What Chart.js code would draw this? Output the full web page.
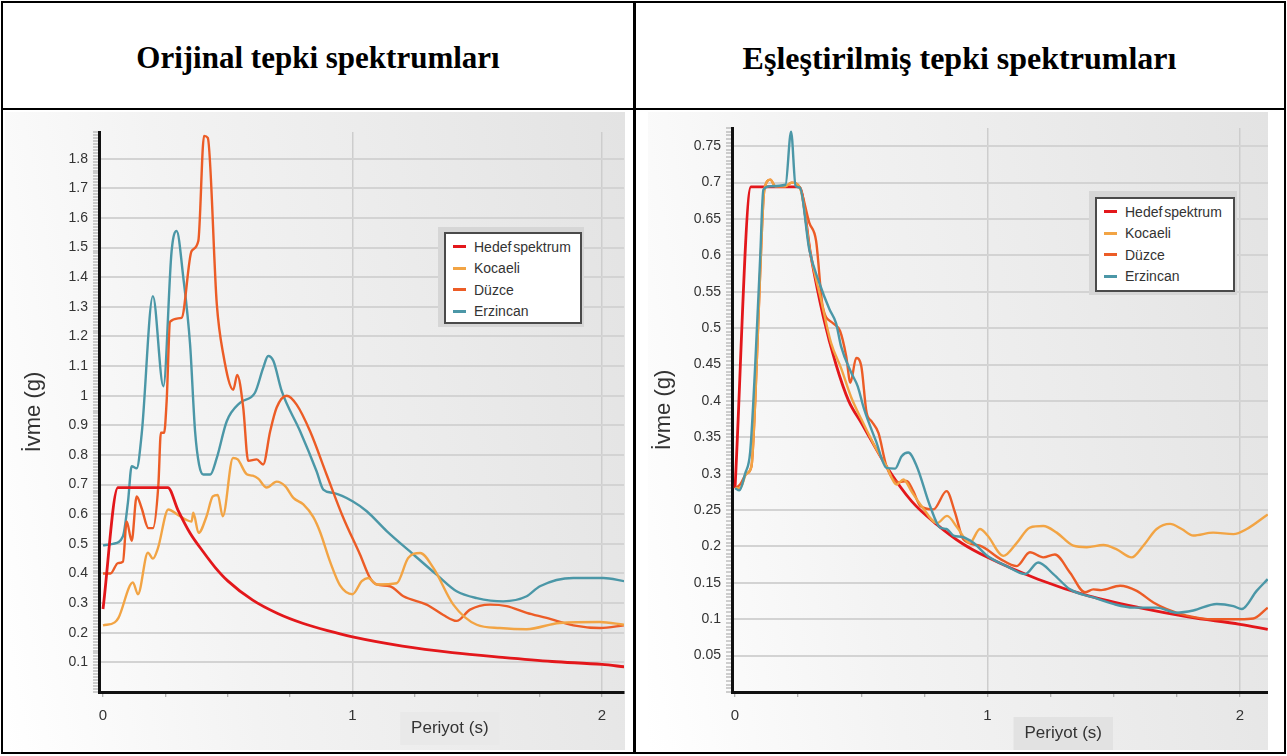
<!DOCTYPE html>
<html>
<head>
<meta charset="utf-8">
<title>Tepki spektrumları</title>
<script src="https://cdn.jsdelivr.net/npm/chart.js@4.4.1/dist/chart.umd.min.js"></script>
<style>
  html, body { margin: 0; padding: 0; background: #fff; }
  body { width: 1287px; height: 756px; position: relative; overflow: hidden;
         font-family: "Liberation Sans", Arial, sans-serif; }
  .frame { position: absolute; left: 1px; top: 1px; width: 1281px; height: 749px; border: 2px solid #000; }
  .vline { position: absolute; left: 633px; top: 1px; width: 3px; height: 753px; background: #000; }
  .hline { position: absolute; left: 1px; top: 108px; width: 1285px; height: 2px; background: #000; }
  .head { position: absolute; top: 3px; height: 105px; padding-top: 5px; box-sizing: border-box;
          display: flex; align-items: center; justify-content: center;
          font-family: "Liberation Serif", "Times New Roman", serif; font-weight: bold; font-size: 31px; color: #000; }
  .panel { position: absolute; top: 112px; width: 620px; height: 638px;
           background: linear-gradient(80deg, #ffffff 0%, #f3f3f3 35%, #e3e3e3 100%); }
  .panel canvas { display: block; }
  .lg-frame { position: absolute; background: #d6d6d6; }
  .legend { position: absolute; background: #fff; border: 2px solid #4a4a4a; box-sizing: border-box;
            padding-top: 2px; font-size: 14px; color: #333; word-spacing: -2px; }
  .lg-row { height: 21.5px; display: flex; align-items: center; padding-left: 7px; white-space: nowrap; }
  .lg-swatch { width: 13px; height: 3px; margin-right: 8px; flex: none; }
</style>
</head>
<body>
<div class="frame"></div>
<div class="hline"></div>
<div class="vline"></div>
<div class="head" style="left:3px; width:630px;">Orijinal tepki spektrumları</div>
<div class="head" style="left:636px; width:647px; font-size:32px;">Eşleştirilmiş tepki spektrumları</div>

<div class="panel" style="left:5px;"><canvas id="origChart"></canvas></div>
<div class="panel" style="left:648px;"><canvas id="matchChart"></canvas></div>

<div class="lg-frame" style="left:438px; top:227px; width:146px; height:100px;"></div>
<div class="legend" id="origLegend" style="left:444px; top:232px; width:138px; height:92px;"></div>
<div class="lg-frame" style="left:1089px; top:191px; width:148px; height:104px;"></div>
<div class="legend" id="matchLegend" style="left:1095px; top:197px; width:140px; height:95px;"></div>

<script>
// series names and colours (legend order)
const seriesNames = ["Hedef spektrum", "Kocaeli", "Düzce", "Erzincan"];
const seriesColors = ["#e3171b", "#f2a444", "#ec5c26", "#4b97a7"];

// ---- Orijinal tepki spektrumları (periyot s, ivme g) ----
const origHedefT  = [0, 0.06, 0.26, 0.3, 0.35, 0.4, 0.45, 0.5, 0.6, 0.7, 0.8, 0.9, 1.0, 1.2, 1.4, 1.6, 1.8, 2.0, 2.09];
const origHedefSa = [0.28, 0.69, 0.69, 0.615, 0.535, 0.475, 0.42, 0.375, 0.31, 0.265, 0.232, 0.207, 0.186, 0.155, 0.133, 0.117, 0.103, 0.093, 0.085];

const origKocaeliT  = [0, 0.047, 0.062, 0.12, 0.14, 0.18, 0.2, 0.22, 0.262, 0.296, 0.336, 0.355, 0.362, 0.383, 0.415, 0.44, 0.46, 0.48,
                       0.521, 0.54, 0.576, 0.6, 0.622, 0.656, 0.696, 0.73, 0.763, 0.803, 0.843, 0.87, 0.91, 0.95, 1.0, 1.037, 1.063,
                       1.097, 1.177, 1.223, 1.271, 1.324, 1.404, 1.498, 1.59, 1.698, 1.83, 1.99, 2.09];
const origKocaeliSa = [0.225, 0.235, 0.25, 0.37, 0.33, 0.47, 0.45, 0.485, 0.616, 0.60, 0.58, 0.575, 0.605, 0.537, 0.593, 0.66, 0.665, 0.593,
                       0.79, 0.785, 0.735, 0.73, 0.72, 0.69, 0.71, 0.695, 0.655, 0.633, 0.59, 0.54, 0.44, 0.36, 0.33, 0.374, 0.385,
                       0.363, 0.367, 0.452, 0.469, 0.419, 0.295, 0.227, 0.216, 0.212, 0.233, 0.236, 0.227];

const origDuzceT  = [0, 0.03, 0.06, 0.08, 0.095, 0.115, 0.135, 0.155, 0.182, 0.2, 0.222, 0.232, 0.245, 0.255, 0.269, 0.315, 0.355, 0.382,
                     0.405, 0.42, 0.456, 0.482, 0.522, 0.538, 0.562, 0.582, 0.616, 0.642, 0.67, 0.696, 0.736, 0.776, 0.83, 0.896,
                     0.963, 1.03, 1.07, 1.097, 1.15, 1.204, 1.297, 1.364, 1.417, 1.471, 1.551, 1.618, 1.698, 1.778, 1.885, 1.992, 2.09];
const origDuzceSa = [0.40, 0.40, 0.435, 0.44, 0.576, 0.51, 0.66, 0.62, 0.553, 0.553, 0.70, 0.875, 0.875, 0.98, 1.25, 1.263, 1.488, 1.522,
                     1.877, 1.87, 1.31, 1.14, 1.02, 1.07, 0.96, 0.78, 0.785, 0.768, 0.88, 0.96, 1.0, 0.97, 0.88, 0.734,
                     0.588, 0.464, 0.385, 0.363, 0.357, 0.323, 0.295, 0.26, 0.24, 0.278, 0.295, 0.29, 0.267, 0.25, 0.225, 0.216, 0.225];

const origErzincanT  = [0, 0.04, 0.08, 0.1, 0.115, 0.135, 0.155, 0.2, 0.242, 0.275, 0.295, 0.322, 0.349, 0.369, 0.385, 0.402, 0.43, 0.456,
                        0.496, 0.549, 0.609, 0.642, 0.662, 0.683, 0.716, 0.79, 0.856, 0.883, 0.923, 1.0, 1.057, 1.137, 1.244, 1.337,
                        1.417, 1.498, 1.604, 1.698, 1.751, 1.885, 2.005, 2.09];
const origErzincanSa = [0.495, 0.50, 0.526, 0.64, 0.762, 0.755, 0.87, 1.336, 1.032, 1.488, 1.556, 1.398, 1.173, 0.88, 0.768, 0.734, 0.734, 0.79,
                        0.914, 0.976, 1.01, 1.094, 1.134, 1.117, 1.016, 0.88, 0.745, 0.683, 0.672, 0.644, 0.61, 0.543, 0.464, 0.396,
                        0.34, 0.317, 0.306, 0.323, 0.357, 0.385, 0.385, 0.374];

// ---- Eşleştirilmiş tepki spektrumları ----
const matchHedefT  = [0, 0.063, 0.255, 0.3, 0.35, 0.4, 0.45, 0.5, 0.6, 0.7, 0.8, 0.9, 1.0, 1.2, 1.4, 1.6, 1.8, 2.0, 2.11];
const matchHedefSa = [0.28, 0.694, 0.694, 0.6, 0.515, 0.45, 0.40, 0.37, 0.31, 0.262, 0.23, 0.204, 0.185, 0.155, 0.132, 0.116, 0.103, 0.093, 0.086];

const matchKocaeliT  = [0, 0.02, 0.045, 0.065, 0.08, 0.1, 0.116, 0.14, 0.16, 0.2, 0.224, 0.257, 0.3, 0.34, 0.38, 0.42, 0.46, 0.5, 0.55,
                        0.6, 0.64, 0.667, 0.7, 0.74, 0.8, 0.84, 0.88, 0.93, 0.97, 1.0, 1.063, 1.116, 1.168, 1.221, 1.274, 1.34,
                        1.393, 1.459, 1.512, 1.571, 1.617, 1.67, 1.723, 1.769, 1.815, 1.894, 1.974, 2.027, 2.11];
const matchKocaeliSa = [0.28, 0.28, 0.30, 0.31, 0.40, 0.58, 0.69, 0.704, 0.695, 0.695, 0.70, 0.693, 0.60, 0.54, 0.48, 0.445, 0.405, 0.375, 0.34,
                        0.31, 0.285, 0.292, 0.275, 0.255, 0.232, 0.242, 0.226, 0.205, 0.224, 0.215, 0.187, 0.205, 0.226, 0.228, 0.219, 0.201,
                        0.199, 0.202, 0.196, 0.185, 0.201, 0.224, 0.231, 0.224, 0.215, 0.219, 0.217, 0.224, 0.244];

const matchDuzceT  = [0, 0.02, 0.045, 0.065, 0.08, 0.1, 0.116, 0.14, 0.16, 0.2, 0.224, 0.257, 0.294, 0.321, 0.347, 0.387, 0.416, 0.44,
                      0.457, 0.48, 0.5, 0.521, 0.541, 0.568, 0.6, 0.647, 0.68, 0.706, 0.733, 0.786, 0.838, 0.871, 0.904, 0.97,
                      1.05, 1.116, 1.168, 1.221, 1.267, 1.327, 1.386, 1.419, 1.45, 1.525, 1.591, 1.657, 1.71, 1.789, 1.894, 2.0, 2.053, 2.11];
const matchDuzceSa = [0.28, 0.285, 0.30, 0.31, 0.40, 0.58, 0.69, 0.704, 0.695, 0.695, 0.70, 0.693, 0.645, 0.62, 0.53, 0.507, 0.496, 0.462,
                      0.425, 0.459, 0.448, 0.384, 0.372, 0.356, 0.31, 0.288, 0.29, 0.276, 0.256, 0.251, 0.276, 0.247, 0.21, 0.201,
                      0.183, 0.173, 0.192, 0.185, 0.189, 0.164, 0.137, 0.141, 0.14, 0.146, 0.139, 0.123, 0.114, 0.105, 0.1, 0.1, 0.101, 0.116];

const matchErzincanT  = [0, 0.017, 0.04, 0.06, 0.08, 0.1, 0.112, 0.14, 0.2, 0.222, 0.24, 0.257, 0.294, 0.334, 0.374, 0.4, 0.42, 0.46,
                         0.486, 0.51, 0.558, 0.6, 0.634, 0.66, 0.686, 0.72, 0.772, 0.812, 0.838, 0.865, 0.9, 0.944, 1.0, 1.076,
                         1.149, 1.201, 1.261, 1.327, 1.419, 1.498, 1.578, 1.67, 1.749, 1.815, 1.908, 1.974, 2.007, 2.066, 2.11];
const matchErzincanSa = [0.28, 0.277, 0.30, 0.33, 0.45, 0.60, 0.69, 0.695, 0.697, 0.77, 0.695, 0.693, 0.608, 0.562, 0.526, 0.507, 0.475, 0.439,
                         0.42, 0.39, 0.345, 0.308, 0.307, 0.324, 0.329, 0.31, 0.256, 0.226, 0.224, 0.215, 0.213, 0.205, 0.187, 0.173,
                         0.162, 0.178, 0.162, 0.141, 0.13, 0.121, 0.116, 0.116, 0.109, 0.112, 0.121, 0.118, 0.114, 0.139, 0.155];

Chart.defaults.font.family = "'Liberation Sans', Arial, sans-serif";
Chart.defaults.color = "#333";

function pts(T, Sa) {
    return T.map((t, i) => ({ x: t, y: Sa[i] }));
}

function isStep(v, step) {
    return Math.abs(v / step - Math.round(v / step)) < 1e-6;
}

// "Periyot (s)" label, centred on a period value, with the grey box behind it
const periyotTitle = {
    id: "periyotTitle",
    afterDraw(chart, args, opts) {
        const ctx = chart.ctx;
        const x = chart.scales.x.getPixelForValue(opts.at);
        ctx.save();
        ctx.font = "17px 'Liberation Sans', Arial, sans-serif";
        const w = ctx.measureText(opts.text).width;
        ctx.fillStyle = opts.box;
        ctx.fillRect(x - w / 2 - 11, opts.y - 16, w + 22, 33);
        ctx.fillStyle = "#333";
        ctx.textAlign = "center";
        ctx.textBaseline = "middle";
        ctx.fillText(opts.text, x, opts.y);
        ctx.restore();
    }
};

function makeChart(id, sets, cfg) {
    const datasets = sets.map((s, i) => ({
        label: seriesNames[i],
        data: pts(s[0], s[1]),
        borderColor: seriesColors[i],
        backgroundColor: seriesColors[i],
        borderWidth: i === 0 ? 2.8 : 2.4,
        pointRadius: 0,
        cubicInterpolationMode: "monotone",
        fill: false,
        order: cfg.order[i]
    }));

    return new Chart(document.getElementById(id), {
        type: "line",
        data: { datasets: datasets },
        options: {
            responsive: true,
            maintainAspectRatio: false,
            animation: false,
            layout: { padding: cfg.padding },
            plugins: {
                legend: { display: false },
                tooltip: { enabled: false },
                periyotTitle: { text: "Periyot (s)", at: cfg.titleAt, y: cfg.titleY, box: cfg.titleBox }
            },
            scales: {
                x: {
                    type: "linear",
                    min: cfg.xMin,
                    max: cfg.xMax,
                    afterFit: s => { s.height = cfg.xH; },
                    border: { color: "#111", width: 3 },
                    grid: {
                        color: c => (c.tick && c.tick.value > 0.5 && isStep(c.tick.value, 1)) ? "#cdcdcd" : "rgba(0,0,0,0)",
                        lineWidth: 1.5,
                        tickLength: 5,
                        tickColor: "#9a9a9a",
                        tickWidth: 1
                    },
                    ticks: {
                        stepSize: 0.25,
                        includeBounds: false,
                        autoSkip: false,
                        maxRotation: 0,
                        padding: 10,
                        color: "#333",
                        font: { size: 15 },
                        callback: v => isStep(v, 1) ? String(Math.round(v)) : ""
                    }
                },
                y: {
                    min: 0,
                    max: cfg.yMax,
                    afterFit: s => { s.width = cfg.yW; },
                    border: { color: "#111", width: 3 },
                    grid: {
                        color: c => (c.tick && c.tick.value > 1e-6 && isStep(c.tick.value, cfg.yMajor)) ? "#d3d3d3" : "rgba(0,0,0,0)",
                        lineWidth: 2,
                        tickLength: 6,
                        tickColor: "#a0a0a0",
                        tickWidth: 1
                    },
                    ticks: {
                        stepSize: cfg.yMinor,
                        includeBounds: false,
                        autoSkip: false,
                        padding: 5,
                        color: "#333",
                        font: { size: 14 },
                        callback: v => (v > 1e-6 && isStep(v, cfg.yMajor)) ? String(parseFloat(v.toFixed(2))) : ""
                    },
                    title: {
                        display: true,
                        text: "İvme (g)",
                        color: "#333",
                        font: { size: 22 },
                        padding: { top: cfg.yTitlePad, bottom: 0 }
                    }
                }
            }
        },
        plugins: [periyotTitle]
    });
}

function buildLegend(elId, chart) {
    const el = document.getElementById(elId);
    chart.data.datasets.forEach(ds => {
        const row = document.createElement("div");
        row.className = "lg-row";
        const sw = document.createElement("span");
        sw.className = "lg-swatch";
        sw.style.background = ds.borderColor;
        const tx = document.createElement("span");
        tx.textContent = ds.label;
        row.appendChild(sw);
        row.appendChild(tx);
        el.appendChild(row);
    });
}

const origChart = makeChart("origChart", [
    [origHedefT, origHedefSa],
    [origKocaeliT, origKocaeliSa],
    [origDuzceT, origDuzceSa],
    [origErzincanT, origErzincanSa]
], {
    order: [0, 1, 2, 3],
    padding: { left: 0, top: 20, right: 1, bottom: 0 },
    xMin: -0.016, xMax: 2.088, xH: 58,
    yMax: 1.89, yMinor: 0.01, yMajor: 0.1, yW: 94, yTitlePad: 16,
    titleAt: 1.39, titleY: 616, titleBox: "#e9e9e9"
});

const matchChart = makeChart("matchChart", [
    [matchHedefT, matchHedefSa],
    [matchKocaeliT, matchKocaeliSa],
    [matchDuzceT, matchDuzceSa],
    [matchErzincanT, matchErzincanSa]
], {
    order: [4, 2, 3, 1],
    padding: { left: 0, top: 16, right: 0, bottom: 0 },
    xMin: -0.012, xMax: 2.111, xH: 58,
    yMax: 0.775, yMinor: 0.005, yMajor: 0.05, yW: 84, yTitlePad: 3,
    titleAt: 1.30, titleY: 621, titleBox: "#e2e2e2"
});

buildLegend("origLegend", origChart);
buildLegend("matchLegend", matchChart);
</script>
</body>
</html>
